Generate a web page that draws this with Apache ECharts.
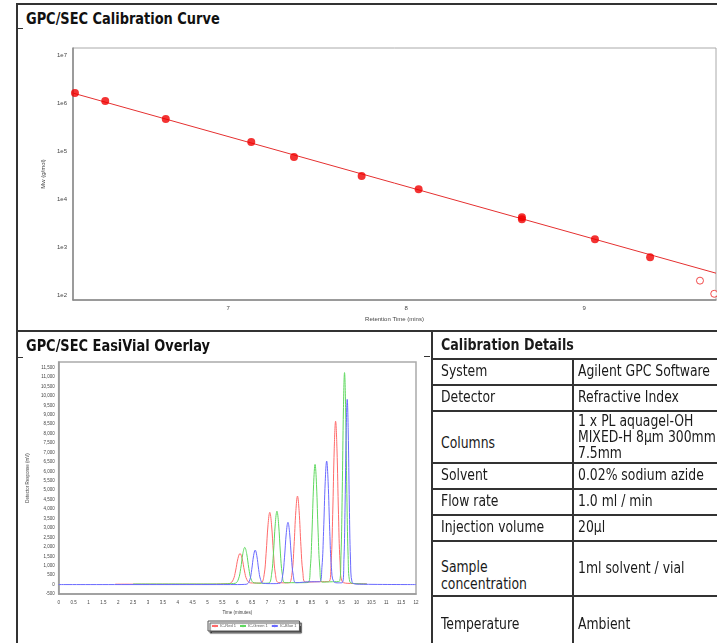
<!DOCTYPE html>
<html><head><meta charset="utf-8">
<script src="https://cdn.jsdelivr.net/npm/echarts@6/dist/echarts.min.js"></script>
<style>
html,body{margin:0;padding:0;background:#fff;}
#page{position:relative;width:717px;height:643px;overflow:hidden;background:#fff;font-family:"Liberation Sans Narrow","DejaVu Sans Condensed","Arial Narrow",sans-serif;font-stretch:condensed;color:#1a1a1a;}
.ln{position:absolute;background:#333;}
.ttl{position:absolute;font-weight:bold;font-size:16px;line-height:18px;white-space:nowrap;color:#111;transform:scaleX(0.9);transform-origin:0 50%;}
#cal{position:absolute;left:17px;top:30px;width:700px;height:300px;}
#ovl{position:absolute;left:17px;top:355px;width:415px;height:288px;}
.cell{position:absolute;display:flex;align-items:center;font-size:15px;line-height:16px;white-space:nowrap;box-sizing:border-box;transform:scaleX(0.92);transform-origin:0 50%;color:#1a1a1a;}
.lab{line-height:17px;}
.hdr{font-size:16px;transform:scaleX(0.88);}
</style></head>
<body><div id="page">
<div id="cal"></div>
<div id="ovl"></div>
</div>
<script>
// ---------- DATA ----------
// Calibration curve: retention time (min) vs Mw (g/mol)
const calTimes = [6.14, 6.31, 6.65, 7.13, 7.37, 7.75, 8.07, 8.65, 8.65, 9.06, 9.37];
const calMw    = [1.61e6, 1.10e6, 4.64e5, 1.54e5, 7.5e4, 3.0e4, 1.59e4, 4.16e3, 3.78e3, 1.45e3, 610];
const excludedTimes = [9.65, 9.73];
const excludedMw    = [199, 106];
const fitTimes = [6.129, 9.74];
const fitMw    = [1.61e6, 285];
const calTitle = 'GPC/SEC Calibration Curve';
const calXName = 'Retention Time (mins)';
const calYName = 'Mw (g/mol)';

// EasiVial overlay traces: [time (min), detector response (mV)]
const redTrace = [[1.9,20],[5.0,20],[5.6,40],
 [5.745,60],[5.86,250],[5.94,720],[6.02,1380],[6.09,1650],[6.16,1380],[6.24,720],[6.32,260],[6.44,90],
 [6.7,80],
 [6.805,90],[6.90,520],[6.966,1650],[7.033,3200],[7.09,3830],[7.147,3200],[7.214,1650],[7.28,540],[7.375,110],
 [7.65,90],
 [7.75,100],[7.84,640],[7.903,2020],[7.966,3920],[8.02,4690],[8.074,3920],[8.137,2020],[8.20,660],[8.29,130],
 [8.7,150],
 [9.075,160],[9.15,1170],[9.2025,3720],[9.255,7230],[9.30,8660],[9.345,7230],[9.3975,3720],[9.45,1190],[9.525,150],
 [9.8,60],[10.35,40]];
const greenTrace = [[2.5,30],[5.3,30],[5.8,50],
 [5.935,70],[6.04,300],[6.113,850],[6.187,1650],[6.25,1970],[6.313,1650],[6.387,850],[6.46,300],[6.565,90],
 [6.9,70],
 [7.06,80],[7.15,540],[7.213,1670],[7.276,3250],[7.33,3890],[7.384,3250],[7.447,1670],[7.51,550],[7.60,100],
 [8.1,100],
 [8.37,110],[8.45,870],[8.506,2740],[8.562,5320],[8.61,6370],[8.658,5320],[8.714,2740],[8.77,880],[8.85,130],
 [9.2,150],
 [9.42,160],[9.48,1520],[9.522,4830],[9.564,9390],[9.60,11240],[9.636,9390],[9.678,4830],[9.72,1540],[9.78,140],
 [10.0,50],[10.35,30]];
const blueTrace = [[0,0],[6.0,0],[6.25,10],
 [6.33,30],[6.42,250],[6.483,790],[6.546,1530],[6.60,1830],[6.654,1530],[6.717,790],[6.78,270],[6.87,60],
 [7.2,50],
 [7.43,70],[7.52,460],[7.583,1420],[7.646,2760],[7.70,3300],[7.754,2760],[7.817,1420],[7.88,480],[7.97,100],
 [8.5,150],
 [8.76,150],[8.84,900],[8.896,2820],[8.952,5470],[9.00,6550],[9.048,5470],[9.104,2820],[9.16,910],[9.24,150],
 [9.4,90],
 [9.525,100],[9.58,1330],[9.6185,4220],[9.657,8200],[9.69,9820],[9.723,8200],[9.7615,4220],[9.80,1350],[9.855,120],
 [10.1,20],[12,0]];
const traceNames = ['IC-Red 1', 'IC-Green 1', 'IC-Blue 1'];
const ovlTitle = 'GPC/SEC EasiVial Overlay';
const ovlXName = 'Time (minutes)';
const ovlYName = 'Detector Response (mV)';

// Calibration details table
const tableTitle = 'Calibration Details';
const tableLabels = ['System','Detector','Columns','Solvent','Flow rate','Injection volume','Sample<br>concentration','Temperature'];
const tableValues = ['Agilent GPC Software','Refractive Index','1 x PL aquagel-OH<br>MIXED-H 8µm 300mm<br>7.5mm','0.02% sodium azide','1.0 ml / min','20µl','1ml solvent / vial','Ambient'];

// ---------- LAYOUT (page frame) ----------
const page = document.getElementById('page');
function line(x,y,w,h){const d=document.createElement('div');d.className='ln';d.style.left=x+'px';d.style.top=y+'px';d.style.width=w+'px';d.style.height=h+'px';page.appendChild(d);}
function text(cls,html,x,y,extra){const d=document.createElement('div');d.className=cls;d.innerHTML=html;d.style.left=x+'px';d.style.top=y+'px';if(extra)Object.assign(d.style,extra);page.appendChild(d);return d;}
line(16,3,701,1.5);      // top border
line(16,3,1.5,640);      // left border
line(16,330,701,1.5);    // section divider
line(431,330,1.5,313);   // panel divider
line(16,28,7,1.2); line(16,357,7,1.2); line(424,356,6,1.2);
text('ttl',calTitle,26,10);
text('ttl',ovlTitle,26,337);

// table
const rowLines = [331,358,384,410,462,488,514,540,595,653];
const labelShift = [0,0,7,0,0,0,8,0];
const valueShift = [0,0,1,0,0,0,0,0];
const colX = [432,572,760];
text('cell hdr','<b>'+tableTitle+'</b>',colX[0]+9,rowLines[0],{height:(rowLines[1]-rowLines[0])+'px'});
for(let i=0;i<tableLabels.length;i++){
  const t=rowLines[i+1], h=rowLines[i+2]-rowLines[i+1];
  line(colX[0],t,colX[2]-colX[0],1.6);
  text('cell lab',tableLabels[i],colX[0]+9,t+labelShift[i],{height:h+'px'});
  text('cell',tableValues[i],colX[1]+6,t+valueShift[i],{height:h+'px'});
}
line(colX[1],rowLines[1],1.6,rowLines[rowLines.length-1]-rowLines[1]);

// ---------- CHART 1: calibration curve ----------
const axisCol = '#444';
const cal = echarts.init(document.getElementById('cal'));
cal.setOption({
  animation:false,
  grid:{left:56,top:18,right:1,bottom:30,show:true,borderColor:'#aaa',borderWidth:1},
  xAxis:{type:'value',min:6.129,max:9.74,splitNumber:3,
    name:calXName,nameLocation:'middle',nameGap:13,nameTextStyle:{fontSize:6,color:axisCol},
    axisLine:{onZero:false,lineStyle:{color:'#888',width:1.5}},axisTick:{show:false},splitLine:{show:false},
    axisLabel:{fontSize:6,color:axisCol,margin:5,showMinLabel:false,showMaxLabel:false}},
  yAxis:{type:'log',logBase:10,min:78.7,max:1.4e7,
    name:calYName,nameLocation:'middle',nameGap:16,nameRotate:90,nameTextStyle:{fontSize:6,color:axisCol},
    axisLine:{onZero:false,lineStyle:{color:'#888',width:1.5}},axisTick:{show:false},splitLine:{show:false},
    axisLabel:{fontSize:6,color:axisCol,margin:6,showMinLabel:false,showMaxLabel:false,
      formatter:v=>'1e'+Math.round(Math.log10(v))}},
  series:[
    {type:'line',data:fitTimes.map((t,i)=>[t,fitMw[i]]),symbol:'none',lineStyle:{color:'#e53030',width:1},z:1,silent:true},
    {type:'scatter',data:calTimes.map((t,i)=>[t,calMw[i]]),symbol:'circle',symbolSize:8,itemStyle:{color:'#f00000'},clip:false,z:3},
    {type:'scatter',data:excludedTimes.map((t,i)=>[t,excludedMw[i]]),symbol:'circle',symbolSize:7,
      itemStyle:{color:'#fff',borderColor:'#ee2020',borderWidth:1},clip:false,z:3}
  ]
});

// ---------- CHART 2: EasiVial overlay ----------
const ovl = echarts.init(document.getElementById('ovl'));
const traceColors = ['#ff6a6a','#5fd85f','#6a6aff'];
const traces = [redTrace, greenTrace, blueTrace];
ovl.setOption({
  animation:false,
  color:traceColors,
  grid:{left:35,top:7,right:16,bottom:49,show:true,borderColor:'#aaa',borderWidth:1.5},
  legend:{left:191,top:266,itemWidth:6,itemHeight:3,itemGap:3,padding:[3,3],
    borderColor:'#555',borderWidth:1,backgroundColor:'#fff',
    shadowColor:'rgba(0,0,0,0.7)',shadowOffsetX:2,shadowOffsetY:2,shadowBlur:1,
    textStyle:{fontSize:4,color:'#555',padding:[0,0,0,-3]},
    data:traceNames},
  xAxis:{type:'value',min:0,max:12,interval:0.5,
    name:ovlXName,nameLocation:'middle',nameGap:11,nameTextStyle:{fontSize:4.5,color:axisCol},
    axisLine:{onZero:false,lineStyle:{color:'#999',width:1.5}},axisTick:{show:false},splitLine:{show:false},
    axisLabel:{fontSize:4.5,color:axisCol,margin:6}},
  yAxis:{type:'value',min:-500,max:11800,interval:500,
    name:ovlYName,nameLocation:'middle',nameGap:17,nameRotate:90,nameTextStyle:{fontSize:4.5,color:axisCol},
    axisLine:{onZero:false,lineStyle:{color:'#999',width:1.5}},axisTick:{show:false},splitLine:{show:false},
    axisLabel:{fontSize:4.5,color:axisCol,margin:4,showMaxLabel:false,formatter:v=>v.toLocaleString('en-US')}},
  series:traces.map((d,i)=>({type:'line',name:traceNames[i],data:d,symbol:'none',smooth:0.4,
    lineStyle:{width:1,color:traceColors[i]},itemStyle:{color:traceColors[i]}}))
});
</script>
</body></html>
